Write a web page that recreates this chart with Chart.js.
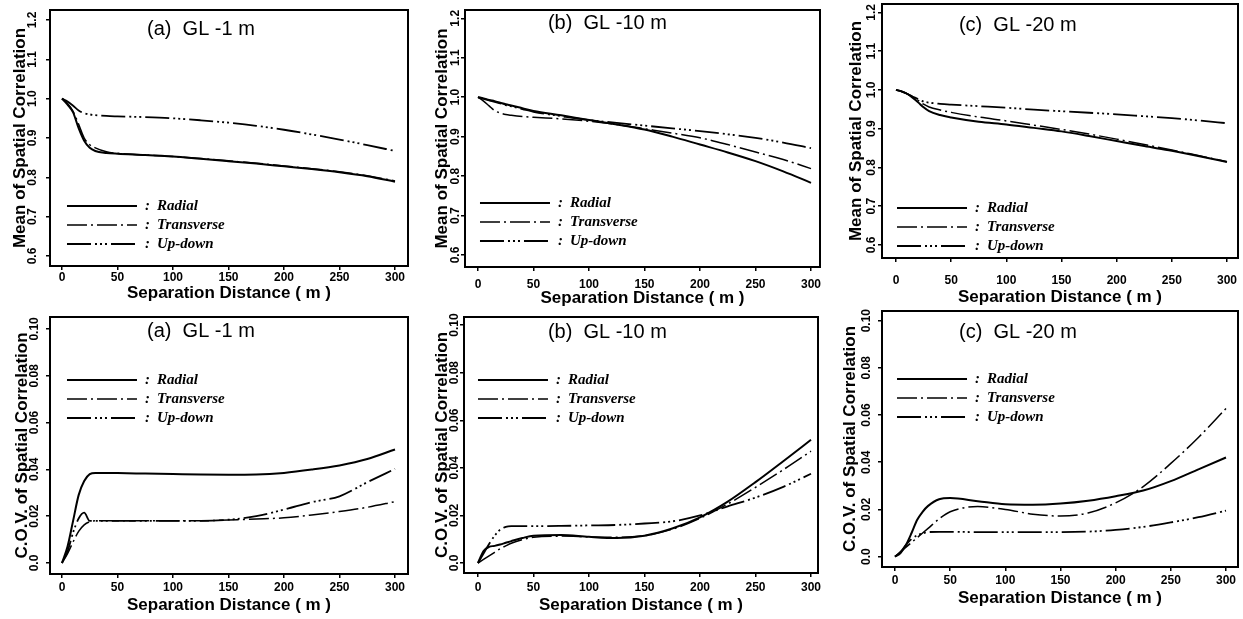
<!DOCTYPE html>
<html><head><meta charset="utf-8">
<script src="https://cdn.jsdelivr.net/npm/chart.js@4.4.1/dist/chart.umd.min.js"></script>
<style>
html,body{margin:0;padding:0;background:#fff;width:1243px;height:619px;overflow:hidden;position:relative}
canvas{position:absolute}
</style>
</head><body>
<script>
// ---------- DATA ----------
const distances = [0, 5, 10, 15, 20, 25, 30, 40, 50, 75, 100, 125, 150, 175, 200, 225, 250, 275, 300];
const seriesNames = ['Radial', 'Transverse', 'Up-down'];
const xTickValues = [0, 50, 100, 150, 200, 250, 300];
const meanTickValues = [0.6, 0.7, 0.8, 0.9, 1.0, 1.1, 1.2];
const meanTickLabels = ['0.6', '0.7', '0.8', '0.9', '1.0', '1.1', '1.2'];
const covTickValues = [0, 0.02, 0.04, 0.06, 0.08, 0.10];
const covTickLabels = ['0.0', '0.02', '0.04', '0.06', '0.08', '0.10'];
const panelTitles = ['(a)  GL -1 m', '(b)  GL -10 m', '(c)  GL -20 m'];
const meanAxisTitle = 'Mean of Spatial Correlation';
const covAxisTitle = 'C.O.V. of Spatial Correlation';
const xAxisTitle = 'Separation Distance ( m )';

// Mean of spatial correlation
const meanRadialA     = [1.0, 0.985, 0.965, 0.925, 0.893, 0.875, 0.867, 0.862, 0.860, 0.857, 0.853, 0.847, 0.841, 0.835, 0.828, 0.821, 0.813, 0.803, 0.789];
const meanTransverseA = [1.0, 0.988, 0.968, 0.935, 0.900, 0.883, 0.875, 0.865, 0.861, 0.857, 0.853, 0.848, 0.842, 0.836, 0.829, 0.822, 0.814, 0.804, 0.791];
const meanUpdownA     = [1.0, 0.993, 0.982, 0.970, 0.963, 0.960, 0.958, 0.956, 0.955, 0.953, 0.950, 0.945, 0.939, 0.931, 0.921, 0.909, 0.896, 0.882, 0.867];

const meanRadialB     = [1.0, 0.997, 0.993, 0.990, 0.986, 0.982, 0.979, 0.972, 0.965, 0.954, 0.942, 0.931, 0.918, 0.900, 0.880, 0.860, 0.838, 0.812, 0.783];
const meanTransverseB = [1.0, 0.990, 0.978, 0.966, 0.960, 0.956, 0.954, 0.951, 0.949, 0.945, 0.939, 0.931, 0.920, 0.909, 0.897, 0.880, 0.861, 0.842, 0.819];
const meanUpdownB     = [1.0, 0.996, 0.992, 0.988, 0.984, 0.980, 0.977, 0.970, 0.963, 0.952, 0.942, 0.935, 0.928, 0.921, 0.914, 0.906, 0.897, 0.885, 0.871];

const meanRadialC     = [1.0, 0.996, 0.990, 0.980, 0.968, 0.955, 0.945, 0.935, 0.929, 0.918, 0.911, 0.902, 0.893, 0.881, 0.868, 0.855, 0.843, 0.829, 0.814];
const meanTransverseC = [1.0, 0.996, 0.990, 0.982, 0.973, 0.963, 0.956, 0.948, 0.942, 0.930, 0.920, 0.909, 0.898, 0.886, 0.873, 0.859, 0.845, 0.830, 0.815];
const meanUpdownC     = [1.0, 0.996, 0.990, 0.983, 0.976, 0.970, 0.967, 0.964, 0.962, 0.958, 0.954, 0.949, 0.945, 0.941, 0.937, 0.932, 0.927, 0.921, 0.914];

// C.O.V. of spatial correlation
const covRadialA     = [0, 0.007, 0.018, 0.029, 0.035, 0.038, 0.0385, 0.0385, 0.0384, 0.0382, 0.0380, 0.0378, 0.0377, 0.0378, 0.0385, 0.0399, 0.0417, 0.0444, 0.0485];
const covTransverseA = [0, 0.004, 0.009, 0.0135, 0.0163, 0.0176, 0.018, 0.018, 0.018, 0.018, 0.018, 0.018, 0.0184, 0.0188, 0.0193, 0.0205, 0.022, 0.0238, 0.0262];
const covUpdownA     = [0, 0.005, 0.013, 0.019, 0.0215, 0.018, 0.018, 0.018, 0.018, 0.018, 0.018, 0.018, 0.0185, 0.020, 0.0228, 0.026, 0.0285, 0.0345, 0.0402];

const covRadialB     = [0, 0.005, 0.0068, 0.0072, 0.0078, 0.0085, 0.0092, 0.0105, 0.0115, 0.0118, 0.0110, 0.0105, 0.0115, 0.0145, 0.0192, 0.0258, 0.0340, 0.0428, 0.0518];
const covTransverseB = [0, 0.0015, 0.003, 0.0045, 0.006, 0.0072, 0.0083, 0.0098, 0.0108, 0.0113, 0.0110, 0.0108, 0.0115, 0.0142, 0.0188, 0.0248, 0.0318, 0.0392, 0.0470];
const covUpdownB     = [0, 0.004, 0.008, 0.0115, 0.014, 0.0152, 0.0155, 0.0155, 0.0155, 0.0156, 0.0158, 0.0160, 0.0166, 0.0175, 0.0200, 0.0238, 0.0275, 0.0320, 0.0375];

const covRadialC     = [0, 0.0015, 0.005, 0.010, 0.0155, 0.019, 0.0215, 0.0243, 0.0248, 0.0235, 0.0222, 0.0220, 0.0225, 0.0237, 0.0256, 0.0280, 0.0320, 0.0370, 0.0420];
const covTransverseC = [0, 0.002, 0.004, 0.006, 0.008, 0.010, 0.012, 0.016, 0.019, 0.0212, 0.0200, 0.0180, 0.0172, 0.0185, 0.0228, 0.0297, 0.0395, 0.0505, 0.0628];
const covUpdownC     = [0, 0.002, 0.005, 0.0075, 0.009, 0.0098, 0.0104, 0.0105, 0.0105, 0.0104, 0.0104, 0.0104, 0.0104, 0.0106, 0.0113, 0.0126, 0.0145, 0.0167, 0.0195];

// ---------- STYLES / LAYOUT ----------
const lineStyles = [
  { borderWidth: 2.0, borderDash: [] },
  { borderWidth: 1.5, borderDash: [20, 4, 2, 4] },
  { borderWidth: 1.8, borderDash: [24, 4, 2, 3, 2, 3, 2, 4] }
];
const Y_AXIS_W = 50, X_AXIS_H = 52, PAD_TOP = 4, PAD_RIGHT = 4;
const TICK_LEN = 4;
const TICK_FONT = { family: '"Liberation Sans", Arial, sans-serif', size: 12, weight: 'bold' };
const AXIS_TITLE_FONT = { family: '"Liberation Sans", Arial, sans-serif', size: 17, weight: 'bold' };

const panels = [
  { kind: 'mean', title: 0, series: [meanRadialA, meanTransverseA, meanUpdownA], box: [50, 10, 408, 266], xr: [-10.8, 311.7], yr: [0.5746, 1.2254],
    yTitleGap: 30, yTickGap: 17, xTickGap: 12, xTitleGap: 27, tpos: [76.6, 1.177], leg: { dx: 5, top: 196 } },
  { kind: 'mean', title: 1, series: [meanRadialB, meanTransverseB, meanUpdownB], box: [465, 10, 820, 267], xr: [-11.7, 308.1], yr: [0.5696, 1.221],
    yTitleGap: 23, yTickGap: 9, xTickGap: 18, xTitleGap: 31, tpos: [63, 1.188], leg: { dx: 2, top: 193 } },
  { kind: 'mean', title: 2, series: [meanRadialC, meanTransverseC, meanUpdownC], box: [882, 4, 1238, 258], xr: [-12.7, 310], yr: [0.5665, 1.2214],
    yTitleGap: 26, yTickGap: 10, xTickGap: 23, xTitleGap: 39, tpos: [57, 1.165], leg: { dx: 1, top: 204 } },
  { kind: 'cov', title: 0, series: [covRadialA, covTransverseA, covUpdownA], box: [50, 317, 408, 574], xr: [-10.8, 311.7], yr: [-0.0047, 0.1051],
    yTitleGap: 28, yTickGap: 15, xTickGap: 14, xTitleGap: 31, tpos: [76.6, 0.0987], leg: { dx: 5, top: 63 } },
  { kind: 'cov', title: 1, series: [covRadialB, covTransverseB, covUpdownB], box: [464, 317, 818, 573], xr: [-12.6, 306.3], yr: [-0.0042, 0.1034],
    yTitleGap: 22, yTickGap: 9, xTickGap: 15, xTitleGap: 32, tpos: [63, 0.0971], leg: { dx: 0, top: 63 } },
  { kind: 'cov', title: 2, series: [covRadialC, covTransverseC, covUpdownC], box: [882, 311, 1238, 567], xr: [-11.8, 310.9], yr: [-0.0044, 0.1041],
    yTitleGap: 32, yTickGap: 15, xTickGap: 14, xTitleGap: 31, tpos: [58, 0.0948], leg: { dx: 2, top: 68 } }
];

const measureCtx = document.createElement('canvas').getContext('2d');
function textWidth(str, f) {
  measureCtx.font = `${f.weight} ${f.size}px ${f.family}`;
  return measureCtx.measureText(str).width;
}
function zeroPadding(s) {
  s.paddingTop = 0; s.paddingBottom = 0; s.paddingLeft = 0; s.paddingRight = 0;
}

const framePlugin = {
  id: 'frame',
  afterDatasetsDraw(chart, args, opts) {
    const { ctx, chartArea: a, scales } = chart;
    ctx.save();
    ctx.strokeStyle = '#000';
    ctx.lineWidth = 2;
    ctx.setLineDash([]);
    ctx.strokeRect(a.left, a.top, a.right - a.left, a.bottom - a.top);
    // panel title
    ctx.fillStyle = '#000';
    ctx.font = '20px "Liberation Sans", Arial, sans-serif';
    ctx.textAlign = 'left';
    ctx.textBaseline = 'middle';
    ctx.fillText(opts.title, scales.x.getPixelForValue(opts.tpos[0]), scales.y.getPixelForValue(opts.tpos[1]));
    // legend
    const x0 = scales.x.getPixelForValue(0) + opts.leg.dx;
    chart.data.datasets.forEach((ds, i) => {
      const y = a.top + opts.leg.top + i * 19;
      ctx.beginPath();
      ctx.lineWidth = ds.borderWidth;
      ctx.setLineDash(ds.borderDash || []);
      ctx.moveTo(x0, y);
      ctx.lineTo(x0 + 70, y);
      ctx.stroke();
      ctx.setLineDash([]);
      ctx.font = 'italic bold 15px "Liberation Serif", "Times New Roman", serif';
      ctx.fillText(':', x0 + 78, y);
      ctx.fillText(ds.label, x0 + 90, y);
    });
    ctx.restore();
  }
};

panels.forEach((p) => {
  const [L, T, R, B] = p.box;
  const cv = document.createElement('canvas');
  const w = (R - L) + Y_AXIS_W + PAD_RIGHT;
  const h = (B - T) + PAD_TOP + X_AXIS_H;
  cv.width = w; cv.height = h;
  cv.style.left = (L - Y_AXIS_W) + 'px';
  cv.style.top = (T - PAD_TOP) + 'px';
  cv.style.width = w + 'px'; cv.style.height = h + 'px';
  document.body.appendChild(cv);

  const isMean = p.kind === 'mean';
  const yVals = isMean ? meanTickValues : covTickValues;
  const yLabs = isMean ? meanTickLabels : covTickLabels;
  const widest = Math.max(...yLabs.map(s => textWidth(s, TICK_FONT)));
  const yTickPad = p.yTickGap - TICK_LEN - widest / 2;
  const yTitlePad = Y_AXIS_W - p.yTitleGap - AXIS_TITLE_FONT.size * 1.2 / 2;
  const xTickPad = p.xTickGap - TICK_LEN - TICK_FONT.size * 1.2 / 2;
  const xTitlePadB = X_AXIS_H - p.xTitleGap - AXIS_TITLE_FONT.size * 1.2 / 2;

  new Chart(cv, {
    type: 'line',
    data: {
      datasets: seriesNames.map((name, i) => ({
        label: name,
        data: distances.map((d, k) => ({ x: d, y: p.series[i][k] })),
        borderColor: '#000',
        backgroundColor: '#000',
        borderWidth: lineStyles[i].borderWidth,
        borderDash: lineStyles[i].borderDash,
        pointRadius: 0,
        fill: false,
        cubicInterpolationMode: 'monotone'
      }))
    },
    options: {
      responsive: false,
      animation: false,
      events: [],
      devicePixelRatio: 1,
      layout: { autoPadding: false, padding: { left: 0, top: PAD_TOP, right: PAD_RIGHT, bottom: 0 } },
      plugins: {
        legend: { display: false },
        tooltip: { enabled: false },
        frame: { title: panelTitles[p.title], tpos: p.tpos, leg: p.leg }
      },
      scales: {
        x: {
          type: 'linear', position: 'bottom',
          min: p.xr[0], max: p.xr[1],
          afterBuildTicks: s => { s.ticks = xTickValues.map(v => ({ value: v })); },
          afterFit: s => { s.height = X_AXIS_H; zeroPadding(s); },
          ticks: { autoSkip: false, maxRotation: 0, minRotation: 0, padding: xTickPad, color: '#000', font: TICK_FONT,
                   callback: (v) => String(v) },
          grid: { display: true, drawOnChartArea: false, drawTicks: true, tickLength: TICK_LEN, color: '#000', lineWidth: 1.5 },
          border: { display: false },
          title: { display: true, text: xAxisTitle, color: '#000', font: AXIS_TITLE_FONT, padding: { top: 0, bottom: xTitlePadB } }
        },
        y: {
          type: 'linear', position: 'left',
          min: p.yr[0], max: p.yr[1],
          afterBuildTicks: s => { s.ticks = yVals.map(v => ({ value: v })); },
          afterFit: s => { s.width = Y_AXIS_W; zeroPadding(s); },
          ticks: { autoSkip: false, minRotation: 90, maxRotation: 90, crossAlign: 'center', padding: yTickPad, color: '#000', font: TICK_FONT,
                   callback: (v, i) => yLabs[i] },
          grid: { display: true, drawOnChartArea: false, drawTicks: true, tickLength: TICK_LEN, color: '#000', lineWidth: 1.5 },
          border: { display: false },
          title: { display: true, text: isMean ? meanAxisTitle : covAxisTitle, color: '#000', font: AXIS_TITLE_FONT, padding: { top: yTitlePad, bottom: 0 } }
        }
      }
    },
    plugins: [framePlugin]
  });
});
</script>
</body></html>
